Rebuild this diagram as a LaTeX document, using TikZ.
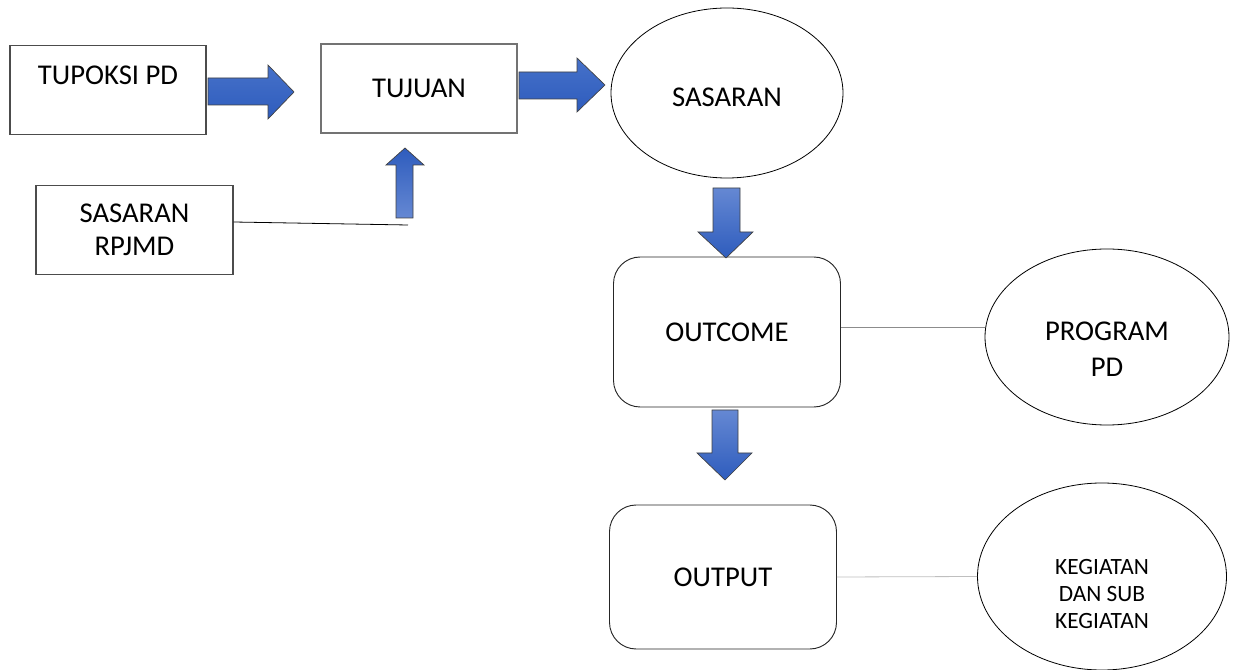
\documentclass[tikz,border=0pt]{standalone}
\usepackage{fontspec}
\setmainfont{Carlito}
\usepackage{tikz}
\usetikzlibrary{shapes.geometric}
\definecolor{arrowlight}{HTML}{6588D3}
\definecolor{arrowmid}{HTML}{4671C9}
\definecolor{arrowdark}{HTML}{2E5CBD}
\newcommand{\boxfont}{\fontsize{21.5}{26}\selectfont}
\newcommand{\smallboxfont}{\fontsize{17.5}{20.25}\selectfont}
\tikzset{%
	plain box/.style={
		rectangle,
		draw=black!70,
		line width=0.9pt,
		minimum width=196*0.75pt,
		minimum height=89*0.75pt,
		font=\boxfont
	},
	round box/.style={
		rectangle,
		rounded corners=20pt,
		draw=black!85,
		line width=0.7pt,
		minimum width=227*0.75pt,
		font=\boxfont
	},
	oval/.style={
		ellipse,
		draw=black,
		line width=0.6pt,
		font=\boxfont,
		align=center
	},
	fat arrow/.style={
		draw=black!75,
		line width=0.5pt
	},
}

\begin{document}
\begin{tikzpicture}[x=0.75pt, y=-0.75pt]
	\useasboundingbox (0,0) rectangle (1233,670);
	
	% Boxes and ellipses
	\node[plain box, text depth=22.5pt] (tupoksi) at (108,90) {TUPOKSI PD};
	\node[plain box, draw=black!55] (tujuan) at (419,88.5) {TUJUAN};
	\node[oval, minimum width=232*0.75pt, minimum height=170*0.75pt, text height=20pt] (sasaran) at (727,93) {SASARAN};
	\node[plain box, minimum width=197*0.75pt, align=center, font=\fontsize{21.5}{24.75}\selectfont] (rpjmd) at (134.5,230) {SASARAN\\RPJMD};
	\node[round box, minimum height=150*0.75pt] (outcome) at (727,332) {OUTCOME};
	\node[oval, minimum width=244*0.75pt, minimum height=176*0.75pt, font=\fontsize{21.5}{27}\selectfont, text height=62pt, text depth=2pt] (program) at (1107,337) {PROGRAM\\PD};
	\node[round box, minimum height=144*0.75pt] (output) at (723,577) {OUTPUT};
	\node[oval, minimum width=249*0.75pt, minimum height=187*0.75pt, font=\smallboxfont, text height=80pt, text depth=2pt] (kegiatan) at (1102,576.5) {KEGIATAN\\DAN SUB\\KEGIATAN};
	
	\coordinate (upbase) at (408,225);
	
	% Block arrows
	\path[fat arrow, top color=arrowmid, bottom color=arrowdark]
		(208,78) -- (268,78) -- (268,65) -- (294,92) -- (268,119) -- (268,105) -- (208,105) -- cycle;
	\path[fat arrow, top color=arrowmid, bottom color=arrowdark]
		(519,72) -- (577,72) -- (577,58) -- (605,85) -- (577,112) -- (577,99) -- (519,99) -- cycle;
	\path[fat arrow, top color=arrowdark, bottom color=arrowlight]
		(396,218) -- (396,165) -- (386,165) -- (405,148) -- (424,165) -- (413,165) -- (413,218) -- cycle;
	\path[fat arrow, top color=arrowlight, bottom color=arrowdark]
		(713,188) -- (740,188) -- (740,232) -- (753,232) -- (726,258) -- (698,232) -- (713,232) -- cycle;
	\path[fat arrow, top color=arrowlight, bottom color=arrowdark]
		(712,410) -- (738,410) -- (738,453) -- (752,453) -- (725,480) -- (697,453) -- (712,453) -- cycle;
	
	% Thin connectors
	\draw[black, line width=0.6pt] ([yshift=6pt]rpjmd.east) -- (upbase);
	\draw[black!45, line width=0.6pt] ([yshift=3.75pt]outcome.east) -- ([yshift=3.75pt]outcome.east -| program.west);
	\draw[black!25, line width=0.6pt] (output.east) -- (kegiatan.west);
	
\end{tikzpicture}
\end{document}
